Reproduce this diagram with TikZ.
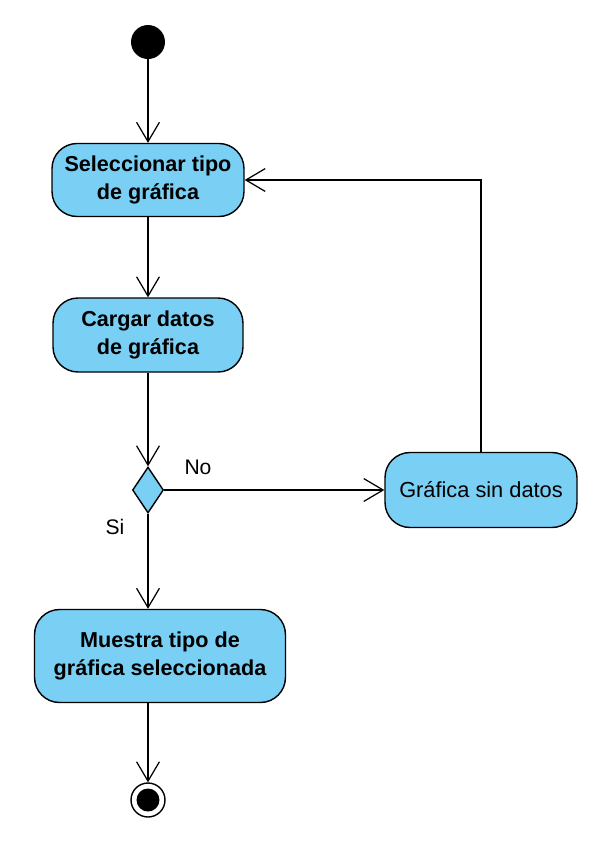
\documentclass[tikz,border=0pt]{standalone}
\usepackage{fontspec}
\setmainfont{Liberation Sans}
\usetikzlibrary{shapes.geometric,arrows.meta}
\definecolor{actblue}{RGB}{122,207,245}

\tikzset{
	accion/.style={draw, fill=actblue, rounded corners=0.5cm, line width=0.8pt, align=center,
		inner sep=0pt, font=\bfseries\fontsize{12.3}{15.8}\selectfont},
	flecha/.style={-{Straight Barb[length=11pt,width=13pt]}, line width=0.7pt},
	etiqueta/.style={font=\fontsize{12}{13}\selectfont}
}

\begin{document}
\begin{tikzpicture}[x=0.02cm, y=-0.02cm]
				\useasboundingbox (0,0) rectangle (597,843);
				\node[circle, fill=black, minimum size=0.68cm, inner sep=0pt] (ini) at (148,42) {};
				\node[accion, minimum width=3.84cm, minimum height=1.46cm] (sel) at (148,180) {Seleccionar tipo\\de gráfica};
				\node[accion, minimum width=3.8cm, minimum height=1.48cm] (car) at (148,335) {Cargar datos\\de gráfica};
				\node[diamond, draw, fill=actblue, line width=0.8pt, minimum width=0.62cm, minimum height=0.92cm, inner sep=0pt] (dec) at (148,490) {};
				\node[accion, font=\fontsize{12.4}{15.8}\selectfont, minimum width=3.84cm, minimum height=1.5cm] (gsd) at (481,490) {Gráfica sin datos};
				\node[accion, minimum width=5.02cm, minimum height=1.86cm] (mue) at (160,656) {Muestra tipo de\\gráfica seleccionada};
				\node[circle, draw, line width=0.8pt, minimum size=0.68cm, inner sep=0pt] (fin) at (148,800) {};
				\node[circle, fill=black, minimum size=0.46cm, inner sep=0pt] (finc) at (fin) {};
				\draw[flecha] (ini) -- (sel);
				\draw[flecha] (sel) -- (car);
				\draw[flecha] (car) -- (dec);
				\draw[flecha] (dec) -- (gsd);
				\draw[flecha] (gsd.north) |- (sel.east);
				\draw[flecha] (dec) -- (dec.south |- mue.north);
				\draw[flecha] (mue.south -| fin) -- (fin);
				\node[etiqueta] (lno) at (198,467) {No};
				\node[etiqueta] (lsi) at (115,527) {Si};
			\end{tikzpicture}
\end{document}
